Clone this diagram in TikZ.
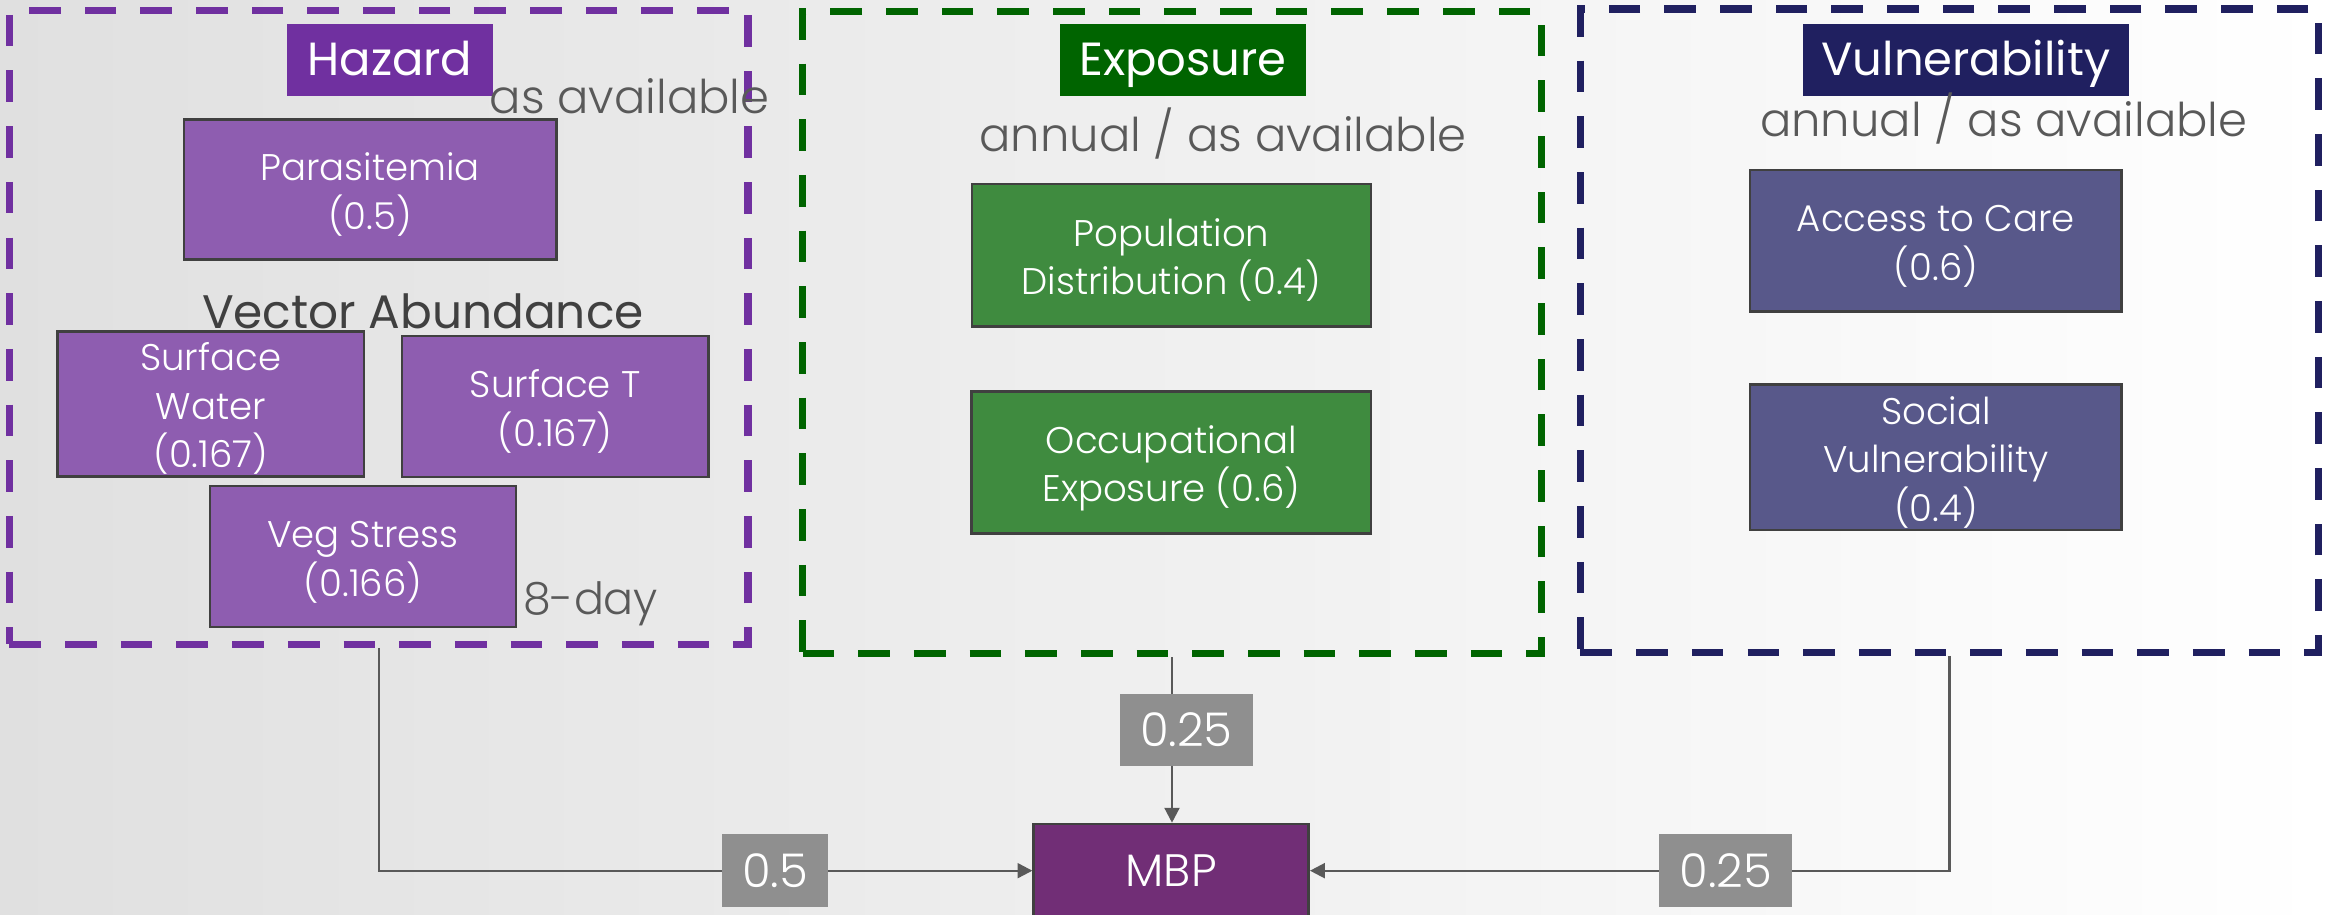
\documentclass[tikz,border=0pt]{standalone}
\usepackage{fontspec}
\newfontfamily\gothic{Poppins}[UprightFont={* Light}]
\newfontfamily\gothicreg{Poppins}
\usetikzlibrary{arrows.meta}
\definecolor{hazpurple}{RGB}{112,48,160}
\definecolor{hazfill}{RGB}{142,93,176}
\definecolor{expgreen}{RGB}{0,100,0}
\definecolor{expfill}{RGB}{63,139,63}
\definecolor{vulnavy}{RGB}{32,32,96}
\definecolor{vulfill}{RGB}{88,88,138}
\definecolor{boxborder}{RGB}{64,64,64}
\definecolor{mbpfill}{RGB}{113,46,118}
\definecolor{wlabel}{RGB}{143,143,143}
\definecolor{connc}{RGB}{89,89,89}
\definecolor{notec}{RGB}{89,89,89}
\definecolor{vatext}{RGB}{64,64,64}
\definecolor{bgleft}{RGB}{224,224,224}
\definecolor{bgmid}{RGB}{243,243,243}
\newcommand\sa{\rule{0pt}{7.6pt}}
\newcommand\sz{\rule[-1.7pt]{0pt}{1.7pt}}
\tikzset{
  dbox/.style={draw=#1, line width=1.4pt, dash pattern=on 6.06pt off 4.6pt, inner sep=0pt, rectangle},
  titlebox/.style={fill=#1, text=white, inner sep=0pt, minimum height=0.484cm,
    text height=6.66pt, text depth=0.66pt, font=\gothicreg\fontsize{8.9}{10.8}\selectfont},
  factorbox/.style={fill=#1, draw=boxborder, line width=0.5pt, text=white, inner sep=0pt,
    align=center, font=\gothic\fontsize{7.1}{9.28}\selectfont},
  notetext/.style={text=notec, inner sep=0pt, font=\gothic\fontsize{8.9}{11}\selectfont},
  wlbl/.style={fill=wlabel, text=white, inner sep=0pt, minimum height=0.487cm,
    font=\gothic\fontsize{8.9}{10}\selectfont},
  conn/.style={draw=connc, line width=0.45pt, -{Triangle[length=2.85pt,width=2.85pt]}},
}
\begin{document}
\begin{tikzpicture}[x=0.01cm,y=-0.01cm]
\useasboundingbox (0,0) rectangle (1568,616);
\shade[left color=bgleft, middle color=bgmid, right color=white] (0,0) rectangle (1568,616);

% group frames
\node[dbox=hazpurple, minimum width=4.97cm, minimum height=4.266cm] (hazbox) at (255,220.3) {};
\node[dbox=expgreen, minimum width=4.971cm, minimum height=4.32cm] (expbox) at (789.05,224) {};
\node[dbox=vulnavy, minimum width=4.968cm, minimum height=4.328cm] (vulbox) at (1312.6,222.6) {};

% titles
\node[titlebox=hazpurple, minimum width=1.39cm] (haztitle) at (262.5,40.4) {Hazard};
\node[titlebox=expgreen, minimum width=1.656cm] (exptitle) at (796.5,40.4) {Exposure};
\node[titlebox=vulnavy, minimum width=2.195cm] (vultitle) at (1323.5,40.4) {Vulnerability};

% frequency notes
\node[notetext, anchor=base west] (hazfreq) at (329,76.3) {as available};
\node[notetext, anchor=base] (expfreq) at (823.5,102) {annual / as available};
\node[notetext, anchor=base] (vulfreq) at (1349,92) {annual / as available};
\node[notetext, anchor=base, font=\gothic\fontsize{8.5}{10}\selectfont] (hazday) at (397.7,413.7) {8-day};
\node[text=vatext, inner sep=0pt, anchor=base, font=\gothicreg\fontsize{9}{11}\selectfont] (vecab) at (284.7,221.5) {Vector Abundance};

% hazard factors
\node[factorbox=hazfill, minimum width=2.505cm, minimum height=0.942cm] (para) at (249.25,127.5) {\sa Parasitemia\\(0.5)\sz};
\node[factorbox=hazfill, minimum width=2.062cm, minimum height=0.955cm] (swater) at (141.9,272) {\sa Surface\\Water\\(0.167)\sz};
\node[factorbox=hazfill, minimum width=2.064cm, minimum height=0.948cm] (stemp) at (373.8,273.6) {\sa Surface T\\(0.167)\sz};
\node[factorbox=hazfill, minimum width=2.06cm, minimum height=0.948cm] (veg) at (244.4,374.6) {\sa Veg Stress\\(0.166)\sz};

% exposure factors
\node[factorbox=expfill, minimum width=2.685cm, minimum height=0.957cm] (pop) at (788.75,171.85) {\sa Population\\Distribution (0.4)\sz};
\node[factorbox=expfill, minimum width=2.69cm, minimum height=0.958cm] (occ) at (788.5,311.4) {\sa Occupational\\Exposure (0.6)\sz};

% vulnerability factors
\node[factorbox=vulfill, minimum width=2.5cm, minimum height=0.952cm] (acc) at (1303.35,162.1) {\sa Access to Care\\(0.6)\sz};
\node[factorbox=vulfill, minimum width=2.5cm, minimum height=0.956cm] (soc) at (1303.35,307.8) {\sa Social\\Vulnerability\\(0.4)\sz};

% result
\node[draw=boxborder, fill=mbpfill, line width=0.5pt, minimum width=1.85cm, minimum height=0.628cm,
  inner sep=0pt, text=white, font=\gothic\fontsize{8.7}{10}\selectfont] (mbp) at (788.5,586.2) {MBP};

% connectors
\draw[conn] (hazbox.south) |- (mbp.west);
\draw[conn] (expbox.south) -- (expbox.south |- mbp.north);
\draw[conn] (vulbox.south) |- (mbp.east);

% weights
\node[wlbl, minimum width=0.896cm] (wexp) at (798.8,491.35) {0.25};
\node[wlbl, minimum width=0.715cm] (whaz) at (521.75,586.2) {0.5};
\node[wlbl, minimum width=0.896cm] (wvul) at (1161.8,586.2) {0.25};
\end{tikzpicture}
\end{document}
